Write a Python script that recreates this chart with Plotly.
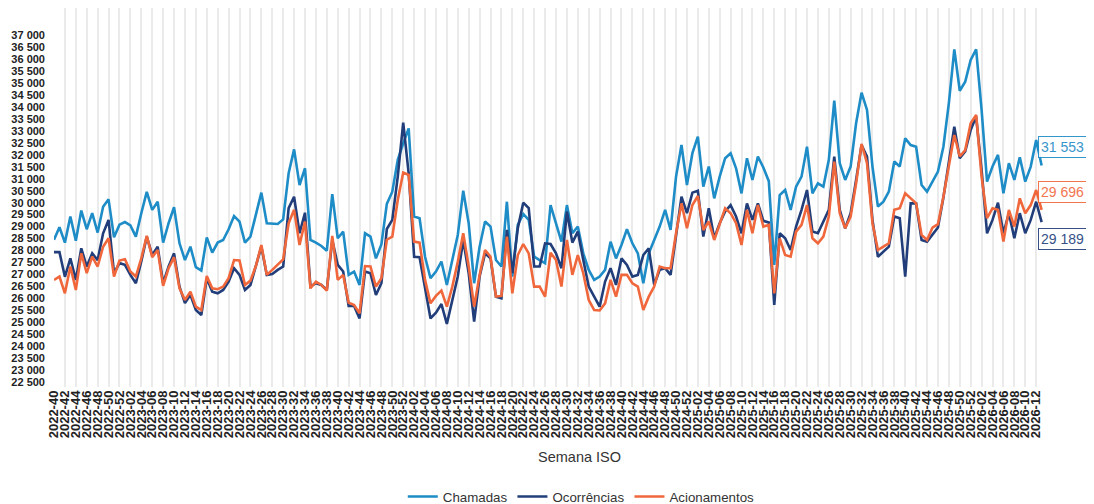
import plotly.graph_objects as go

# ISO week categories (2022-40 .. 2026-13)
weeks = ([f"2022-{w:02d}" for w in range(40, 53)] +
         [f"2023-{w:02d}" for w in range(1, 53)] +
         [f"2024-{w:02d}" for w in range(1, 53)] +
         [f"2025-{w:02d}" for w in range(1, 53)] +
         [f"2026-{w:02d}" for w in range(1, 14)])

chamadas = [
    28450, 28970, 28330, 29420, 28410, 29670, 28890, 29560, 28750, 29830,
    30140, 28550, 29080, 29190, 29050, 28580, 29560, 30450, 29700, 30040,
    28330, 29140, 29810, 28300, 27600, 28160, 27300, 27160, 28550, 27910,
    28330, 28440, 28890, 29440, 29210, 28330, 28580, 29490, 30420, 29140,
    29110, 29110, 29300, 31230, 32230, 30740, 31440, 28440, 28330, 28190,
    27990, 30360, 28510, 28790, 26980, 27120, 26560, 28720, 28580, 27670,
    28250, 29950, 30460, 31790, 32480, 33110, 29420, 29350, 27740, 26840,
    27120, 27540, 26560, 27600, 28650, 30500, 29140, 26630, 28160, 29210,
    29000, 27600, 27330, 30040, 26910, 29070, 29530, 29280, 27740, 27600,
    27470, 29900, 29140, 28370, 29900, 28720, 29000, 27880, 27190, 26770,
    26910, 27190, 28370, 27670, 28230, 28890, 28300, 27880, 26630, 27880,
    28440, 29000, 29700, 28860, 31090, 32410, 30740, 32070, 32760, 30670,
    31510, 30180, 31090, 31860, 32070, 31440, 30390, 31860, 30950, 31930,
    31470, 30900, 27400, 30320, 30530, 29700, 30670, 31090, 32340, 30390,
    30810, 30670, 31790, 34270, 31650, 30950, 31510, 33320, 34600, 33880,
    31510, 29840, 30040, 30460, 31720, 31510, 32690, 32410, 32340, 30740,
    30460, 30880, 31300, 32340, 34160, 36410, 34680, 35060, 35970, 36410,
    33880, 30880, 31510, 32000, 30390, 31650, 30950, 31900, 30880, 31510,
    32620, 31553,
]

ocorrencias = [
    27930, 27930, 26900, 27670, 26770, 28090, 27330, 27880, 27600, 28720,
    29280, 27050, 27470, 27400, 26980, 26630, 27540, 28580, 27810, 28160,
    26630, 27330, 27880, 26490, 25800, 26150, 25510, 25300, 26840, 26280,
    26210, 26350, 26700, 27260, 26980, 26350, 26560, 27330, 28160, 26980,
    27020, 27190, 27330, 29770, 30250, 28720, 29580, 26490, 26630, 26560,
    26350, 28440, 27400, 27120, 25680, 25680, 25160, 27120, 27050, 26140,
    26630, 28900, 29280, 31090, 33350, 31230, 27740, 27720, 26350, 25160,
    25400, 25760, 24930, 25860, 26910, 28440, 27050, 25030, 26910, 27880,
    27670, 26070, 26000, 28860, 27050, 28930, 30000, 29770, 27330, 27330,
    28300, 28270, 27880, 27260, 29630, 28330, 28790, 27600, 26490, 26070,
    25650, 26700, 27260, 26560, 27670, 27400, 26910, 26980, 27810, 28090,
    26560, 27190, 27260, 26980, 28720, 30250, 29560, 30420, 30500, 28580,
    29770, 28510, 29140, 29630, 29900, 29420, 28720, 29970, 29280, 29970,
    29240, 29170, 25720, 28720, 28510, 28020, 29000, 29700, 30530, 28790,
    28720, 29210, 29700, 31930, 29700, 28930, 29560, 30950, 32410, 31930,
    29280, 27740, 27950, 28160, 29420, 29350, 26910, 29970, 29970, 28440,
    28370, 28690, 28960, 30220, 31790, 33180, 31860, 32140, 33040, 33600,
    31370, 28720, 29280, 30000, 28720, 29560, 28510, 29560, 28720, 29280,
    30040, 29189,
]

acionamentos = [
    26770, 26910, 26210, 27330, 26350, 27880, 27050, 27740, 27330, 28160,
    28510, 26910, 27580, 27630, 27120, 26910, 27670, 28610, 27720, 28020,
    26520, 27260, 27720, 26420, 25930, 26280, 25650, 25510, 26930, 26420,
    26380, 26490, 26840, 27600, 27580, 26560, 26740, 27350, 28230, 26980,
    27190, 27400, 27630, 29140, 29700, 28230, 29210, 26420, 26700, 26560,
    26320, 28610, 26770, 26980, 25820, 25720, 25370, 27350, 27330, 26490,
    26840, 28450, 28580, 30110, 31260, 31160, 28370, 28330, 26770, 25790,
    26100, 26320, 25650, 26490, 27530, 28720, 27330, 25650, 26980, 28020,
    27740, 26070, 26100, 28580, 26210, 27810, 28270, 27880, 26490, 26490,
    26070, 27910, 27600, 26490, 28440, 26980, 27810, 27050, 25930, 25510,
    25490, 25790, 26770, 26070, 26980, 26980, 26630, 26490, 25510, 26070,
    26490, 27330, 27260, 27260, 28720, 29970, 28930, 29900, 30280, 28860,
    29210, 28440, 29140, 29770, 29560, 29140, 28230, 29700, 28720, 29900,
    29000, 29070, 26210, 28510, 27810, 27740, 28790, 29070, 29900, 28510,
    28300, 28580, 29420, 31720, 29560, 28930, 29420, 30810, 32460, 31650,
    29140, 28020, 28160, 28300, 29700, 29770, 30390, 30180, 29970, 28650,
    28440, 28960, 29100, 30250, 31580, 32830, 31930, 32200, 33320, 33670,
    31090, 29350, 29770, 29700, 28370, 29700, 29000, 30180, 29560, 29900,
    30530, 29696,
]

ytick_vals = list(range(22500, 37001, 500))
ytick_text = [f"{v:,}".replace(",", " ") for v in ytick_vals]
xtick_vals = weeks[0:181:2]

series = [
    ("Chamadas", chamadas, "#1E8CC6", 19),
    ("Ocorrências", ocorrencias, "#213E7A", -17),
    ("Acionamentos", acionamentos, "#F0673C", 18),
]

fig = go.Figure()
for name, vals, color, _ in series:
    fig.add_trace(go.Scatter(x=weeks, y=vals, name=name, mode="lines",
                             line=dict(color=color, width=2.6)))

for name, vals, color, shift in series:
    fig.add_annotation(x=weeks[-1], y=vals[-1], xref="x", yref="y",
                       text=f"{vals[-1]:,}".replace(",", " "),
                       showarrow=False, xanchor="left", yanchor="middle",
                       xshift=-4, yshift=shift,
                       font=dict(family="Liberation Sans", size=14, color=color),
                       bgcolor="white", bordercolor=color, borderwidth=1,
                       borderpad=2, opacity=0.9)

fig.add_annotation(x=0.5056, y=-0.1847, xref="paper", yref="paper",
                   text="Semana ISO", showarrow=False,
                   xanchor="center", yanchor="middle",
                   font=dict(family="Liberation Sans", size=14.5, color="#333333"))

fig.update_layout(
    width=1086, height=496,
    margin=dict(l=46, r=0, t=0, b=117, autoexpand=False),
    paper_bgcolor="white", plot_bgcolor="white",
    font=dict(family="Liberation Sans", color="#222222"),
    showlegend=True,
    legend=dict(orientation="h", x=0.507, xanchor="center", y=-0.290,
                yanchor="middle", font=dict(size=13.3, color="#333333"),
                itemwidth=30),
    xaxis=dict(type="category", range=[0, 190.6], autorange=False,
               automargin=False,
               tickmode="array", tickvals=xtick_vals, ticktext=xtick_vals,
               tickangle=-90, showgrid=True, gridcolor="#ebebeb", gridwidth=2,
               zeroline=False, showline=False, ticks="",
               tickfont=dict(family="Liberation Sans", size=13, weight="bold",
                             color="#222222")),
    yaxis=dict(range=[22291, 38142], autorange=False, tickmode="array",
               automargin=False,
               tickvals=ytick_vals, ticktext=ytick_text, showgrid=False,
               zeroline=False, showline=False, ticks="", ticklabelstandoff=8,
               tickfont=dict(family="Liberation Sans", size=11, weight="bold",
                             color="#222222")),
)

fig.write_html("out.html")
